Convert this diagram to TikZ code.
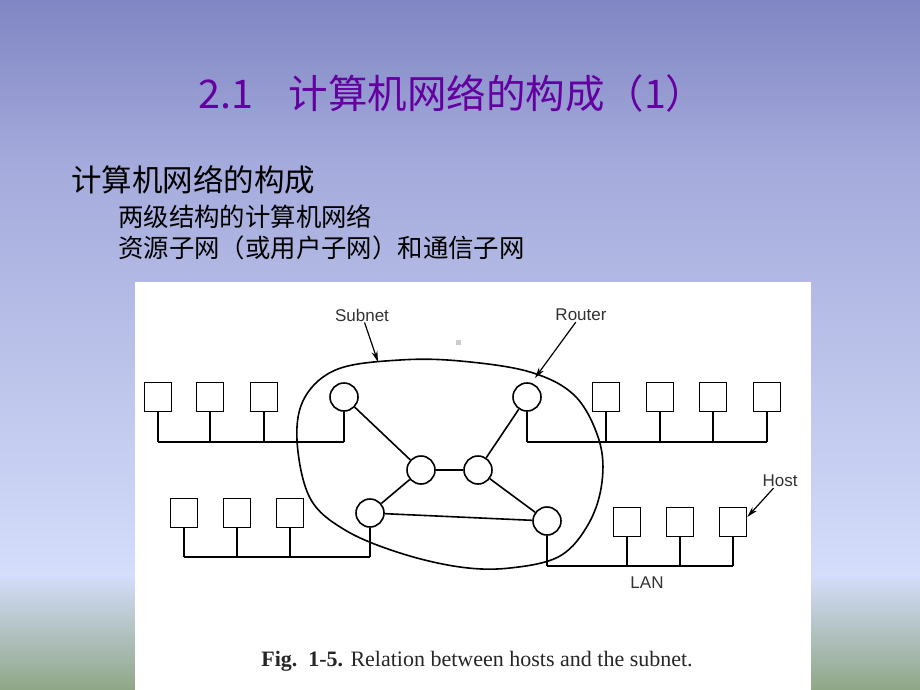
\documentclass[tikz,border=0pt]{standalone}
\usepackage{fontspec}
\newfontfamily\cjk{Noto Sans CJK SC}
\newfontfamily\tagfont{Liberation Sans}
\newfontfamily\capfont{Liberation Serif}
\usetikzlibrary{arrows.meta,
  calc,
  positioning,
  shapes
}
\definecolor{bgtop}{RGB}{127,134,195}
\definecolor{bgmid}{RGB}{164,170,219}
\definecolor{bglight}{RGB}{212,221,250}
\definecolor{bggreen}{RGB}{143,167,134}
\definecolor{titlepurple}{RGB}{100,0,160}
\definecolor{taggray}{RGB}{50,50,50}
\tikzstyle{host} = [draw, rectangle, line width=1.6, minimum width=27,
  minimum height=29, inner sep=0]
\tikzstyle{router} = [draw, circle, line width=1.6, minimum size=28,
  inner sep=0, fill=white]
\tikzstyle{wire} = [line width=1.6]
\tikzstyle{tag} = [taggray, inner sep=1, font={\tagfont\fontsize{17}{19}\selectfont}]
\tikzstyle{tagarrow} = [line width=1.2, -{Stealth[length=11pt,width=6pt]}]

\begin{document}
\begin{tikzpicture}[x=1pt, y=-1pt]
  \useasboundingbox (0,0) rectangle (920,690);
  % slide background
  \shade[top color=bgtop, bottom color=bgmid] (0,0) rectangle (920,160);
  \shade[top color=bgmid, bottom color=bglight] (0,160) rectangle (920,576);
  \shade[top color=bglight, bottom color=bggreen] (0,575) rectangle (920,690);
  \fill[white] (135,282) rectangle (811,690);
  \fill[black!20] (456,340) rectangle (461,345);

  \node[anchor=base west, inner sep=0, titlepurple,
    font={\cjk\fontsize{39.5}{44}\selectfont}] (title) at (198,109)
    {2.1\hspace{0.9em}计算机网络的构成（1）};
  \node[anchor=base west, inner sep=0,
    font={\cjk\fontsize{30.5}{34}\selectfont}] (head) at (71,191)
    {计算机网络的构成};
  \node[anchor=base west, inner sep=0,
    font={\cjk\fontsize{25.4}{28}\selectfont}] (sub1) at (118,226)
    {两级结构的计算机网络};
  \node[anchor=base west, inner sep=0,
    font={\cjk\fontsize{25.4}{28}\selectfont}] (sub2) at (118,257)
    {资源子网（或用户子网）和通信子网};

  % subnet boundary
  \draw[line width=1.6] plot[smooth cycle, tension=0.6] coordinates {
    (297,440) (305,397) (338,369) (400,360) (460,361) (530,372)
    (575,396) (599,440) (602,482) (589,523) (560,556) (510,568)
    (460,567) (400,553) (345,530) (310,498)};

  % routers
  \node[router] (rA) at (344,397) {};
  \node[router] (rB) at (527,397) {};
  \node[router] (rC) at (421,470) {};
  \node[router] (rD) at (478,470) {};
  \node[router] (rE) at (370,513) {};
  \node[router] (rF) at (547,521) {};
  \draw[wire] (rA) -- (rC);
  \draw[wire] (rC) -- (rD);
  \draw[wire] (rD) -- (rB);
  \draw[wire] (rC) -- (rE);
  \draw[wire] (rD) -- (rF);
  \draw[wire] (rE) -- (rF);

  % hosts
  \foreach \n/\x in {1/158,2/210,3/264} {
    \node[host] (hA\n) at (\x,397) {};
  }
  \foreach \n/\x in {1/606,2/660,3/713,4/767} {
    \node[host] (hB\n) at (\x,397) {};
  }
  \foreach \n/\x in {1/184,2/237,3/290} {
    \node[host] (hC\n) at (\x,513) {};
  }
  \foreach \n/\x in {1/627,2/680,3/733} {
    \node[host] (hD\n) at (\x,522) {};
  }

  % LANs
  \coordinate (busA) at (0,442);
  \coordinate (busB) at (0,442);
  \coordinate (busC) at (0,557);
  \coordinate (busD) at (0,566);
  \foreach \m in {hA1,hA2,hA3,rA} {
    \draw[wire] (\m.south) -- (\m.south |- busA);
  }
  \draw[wire] (hA1.south |- busA) -- (rA.south |- busA);
  \foreach \m in {rB,hB1,hB2,hB3,hB4} {
    \draw[wire] (\m.south) -- (\m.south |- busB);
  }
  \draw[wire] (rB.south |- busB) -- (hB4.south |- busB);
  \foreach \m in {hC1,hC2,hC3,rE} {
    \draw[wire] (\m.south) -- (\m.south |- busC);
  }
  \draw[wire] (hC1.south |- busC) -- (rE.south |- busC);
  \foreach \m in {rF,hD1,hD2,hD3} {
    \draw[wire] (\m.south) -- (\m.south |- busD);
  }
  \draw[wire] (rF.south |- busD) -- (hD3.south |- busD);

  % labels
  \node[tag] (subnet) at (362,315) {Subnet};
  \node[tag] (router) at (581,315) {Router};
  \node[tag] (hostlbl) at (780,481) {Host};
  \node[tag] (lan) at (647,583) {LAN};
  \coordinate (subnettip) at (378,362);
  \coordinate (routertip) at (535,378);
  \draw[tagarrow] (subnet) -- (subnettip);
  \draw[tagarrow] (router) -- (routertip);
  \draw[tagarrow] (hostlbl) -- ([yshift=5pt]hD3.east);

  \node[anchor=base, inner sep=0, black!85,
    font={\capfont\fontsize{22}{24}\selectfont}] (caption) at (477,666)
    {\textbf{Fig.\ \ 1-5.} Relation between hosts and the subnet.};
\end{tikzpicture}
\end{document}
